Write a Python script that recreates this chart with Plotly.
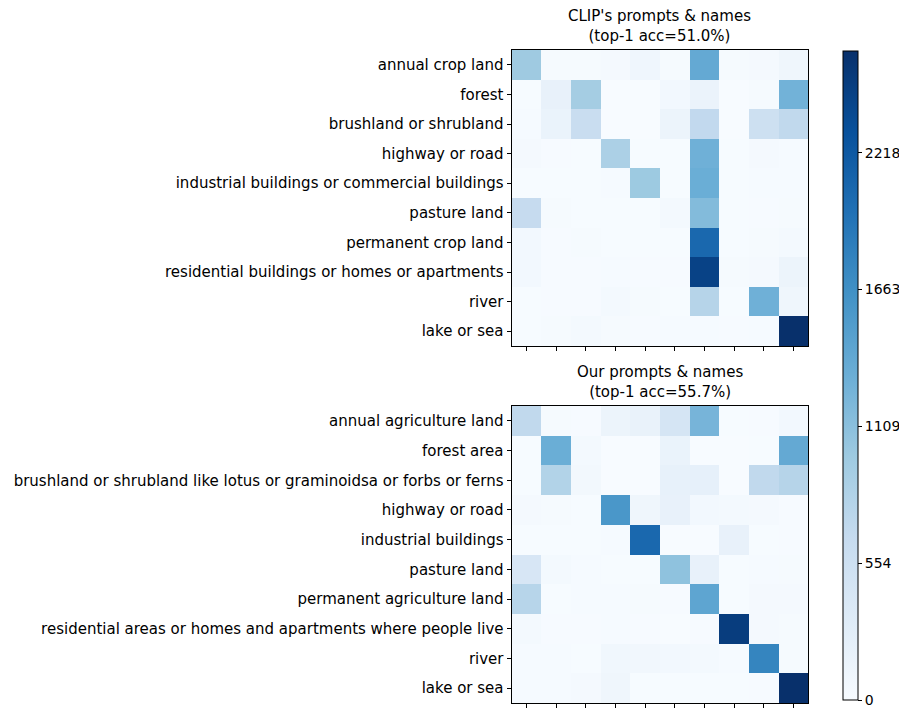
import plotly.graph_objects as go

clip_labels = ["annual crop land", "forest", "brushland or shrubland", "highway or road",
               "industrial buildings or commercial buildings", "pasture land", "permanent crop land",
               "residential buildings or homes or apartments", "river", "lake or sea"]
ours_labels = ["annual agriculture land", "forest area",
               "brushland or shrubland like lotus or graminoidsa or forbs or ferns", "highway or road",
               "industrial buildings", "pasture land", "permanent agriculture land",
               "residential areas or homes and apartments where people live", "river", "lake or sea"]

clip_cm = [
    [980, 30, 30, 40, 100, 30, 1370, 25, 35, 110],
    [10, 200, 930, 5, 5, 60, 160, 5, 30, 1270],
    [20, 170, 610, 5, 5, 150, 690, 5, 560, 700],
    [40, 15, 10, 870, 10, 10, 1290, 10, 40, 20],
    [10, 10, 10, 20, 990, 10, 1320, 10, 20, 20],
    [660, 30, 10, 10, 10, 50, 1160, 10, 15, 25],
    [60, 15, 25, 10, 10, 10, 2060, 10, 30, 50],
    [60, 15, 15, 20, 15, 15, 2450, 30, 40, 150],
    [10, 15, 15, 50, 25, 10, 790, 10, 1290, 110],
    [10, 25, 50, 30, 15, 20, 20, 15, 20, 2630],
]

ours_cm = [
    [700, 30, 15, 150, 190, 450, 1240, 10, 15, 60],
    [10, 1320, 50, 5, 5, 170, 5, 5, 10, 1370],
    [10, 820, 70, 5, 5, 210, 220, 5, 700, 790],
    [35, 25, 10, 1580, 110, 200, 60, 50, 40, 15],
    [10, 10, 10, 20, 2070, 5, 5, 200, 10, 15],
    [430, 50, 20, 10, 10, 1080, 200, 10, 20, 30],
    [780, 10, 20, 20, 25, 15, 1420, 10, 40, 35],
    [50, 15, 15, 20, 15, 5, 15, 2500, 40, 30],
    [20, 20, 10, 90, 80, 60, 50, 20, 1770, 25],
    [20, 20, 35, 110, 10, 10, 10, 10, 15, 2630],
]

cb_ticks = [0, 554.4, 1108.8, 1663.2, 2217.6]
cb_text = ["0", "554", "1109", "1663", "2218"]
zmax = 2630

blues = [[0.0, "rgb(247,251,255)"], [0.125, "rgb(222,235,247)"], [0.25, "rgb(198,219,239)"],
         [0.375, "rgb(158,202,225)"], [0.5, "rgb(107,174,214)"], [0.625, "rgb(66,146,198)"],
         [0.75, "rgb(33,113,181)"], [0.875, "rgb(8,81,156)"], [1.0, "rgb(8,48,107)"]]

W, H = 907, 708
DX, DY = 8, 8  # page offset observed in the screenshot
FONT = "DejaVu Sans"

def px_x(x):
    return (x - DX) / W

def px_y(y):
    return (H - (y - DY)) / H

idx = list(range(10))
fig = go.Figure()
fig.add_trace(go.Heatmap(z=clip_cm, x=idx, y=idx, colorscale=blues, zmin=0, zmax=zmax,
                         xaxis="x", yaxis="y", showscale=False, zsmooth=False))
fig.add_trace(go.Heatmap(z=ours_cm, x=idx, y=idx, colorscale=blues, zmin=0, zmax=zmax,
                         xaxis="x2", yaxis="y2", zsmooth=False,
                         colorbar=dict(thickness=15, len=(700 - 51) / H, lenmode="fraction",
                                       xpad=0, ypad=0,
                                       x=px_x(843), xanchor="left", y=px_y(700), yanchor="bottom",
                                       tickvals=cb_ticks, ticktext=cb_text, ticks="outside",
                                       ticklen=4, tickcolor="black", outlinecolor="black",
                                       outlinewidth=1, tickfont=dict(family=FONT, size=14, color="black"))))

xd = [px_x(511.5), px_x(808.3)]
axcommon = dict(showline=True, mirror=True, linecolor="black", linewidth=1, ticks="outside",
                ticklen=4, tickcolor="black", showgrid=False, zeroline=False,
                tickfont=dict(family=FONT, size=15, color="black"))
fig.update_layout(
    width=W, height=H, margin=dict(l=0, r=0, t=0, b=0),
    plot_bgcolor="white", paper_bgcolor="white",
    xaxis=dict(domain=xd, anchor="y", tickvals=idx, showticklabels=False, range=[-0.5, 9.5], **axcommon),
    yaxis=dict(domain=[px_y(346), px_y(50)], anchor="x", tickvals=idx, ticktext=clip_labels,
               range=[9.5, -0.5], **axcommon),
    xaxis2=dict(domain=xd, anchor="y2", tickvals=idx, showticklabels=False, range=[-0.5, 9.5], **axcommon),
    yaxis2=dict(domain=[px_y(703), px_y(406)], anchor="x2", tickvals=idx, ticktext=ours_labels,
                range=[9.5, -0.5], **axcommon),
)

xc = (xd[0] + xd[1]) / 2
fig.add_annotation(text="CLIP's prompts &amp; names<br>(top-1 acc=51.0%)", x=xc, y=px_y(47),
                   xref="paper", yref="paper", xanchor="center", yanchor="bottom", showarrow=False,
                   font=dict(family=FONT, size=15, color="black"))
fig.add_annotation(text="Our prompts &amp; names<br>(top-1 acc=55.7%)", x=xc, y=px_y(403),
                   xref="paper", yref="paper", xanchor="center", yanchor="bottom", showarrow=False,
                   font=dict(family=FONT, size=15, color="black"))

fig.write_html("out.html")
